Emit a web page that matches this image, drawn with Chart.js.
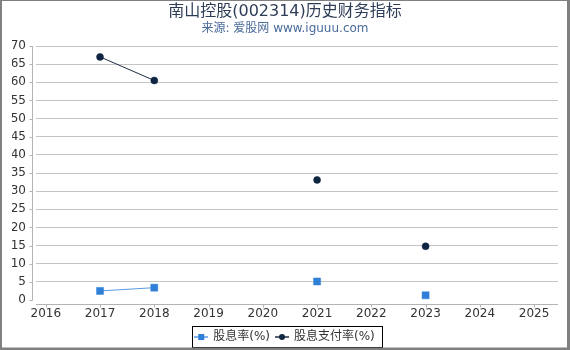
<!DOCTYPE html>
<html lang="zh">
<head>
<meta charset="UTF-8">
<title>南山控股(002314)历史财务指标</title>
<style>
    body { margin: 0; background: #fff; }
    canvas { display: block; }
</style>
</head>
<body>
<canvas id="chart" width="570" height="350"></canvas>

<script src="https://cdn.jsdelivr.net/npm/chart.js@4.4.3/dist/chart.umd.min.js"></script>
<script>
    // values
    const years = [2017, 2018, 2019, 2020, 2021, 2022, 2023]
    const dividendYield = [2.5, 3.4, null, null, 5.1, null, 1.3]
    const payoutRatio = [67.0, 60.5, null, null, 33.1, null, 14.8]
    const xTicks = [2016, 2017, 2018, 2019, 2020, 2021, 2022, 2023, 2024, 2025]
    const seriesNames = ['股息率(%)', '股息支付率(%)']
    const titleText = '南山控股(002314)历史财务指标'
    const subtitleText = '来源: 爱股网 www.iguuu.com'

    const font = "'DejaVu Sans', 'Noto Sans CJK SC', sans-serif"
    const blue = '#2f7fd8'
    const navy = '#0f2541'

    function legendMark(fill, line, shape) {
        const c = document.createElement('canvas')
        c.width = 14
        c.height = 10
        const g = c.getContext('2d')
        g.strokeStyle = line
        g.lineWidth = 1.5
        g.beginPath()
        g.moveTo(0, 5)
        g.lineTo(14, 5)
        g.stroke()
        g.fillStyle = fill
        if (shape === 'rect') {
            g.fillRect(4, 2, 6, 6)
        } else {
            g.beginPath()
            g.arc(7, 5, 3, 0, Math.PI * 2)
            g.fill()
        }
        return c
    }
    const marks = [legendMark(blue, '#5b9be3', 'rect'), legendMark(navy, '#1e2d45', 'circle')]

    // frame, axis lines with gap, legend box
    const decor = {
        id: 'decor',
        beforeDraw(chart) {
            const ctx = chart.ctx
            ctx.save()
            ctx.fillStyle = '#fff'
            ctx.fillRect(0, 0, chart.width, chart.height)
            ctx.restore()
        },
        afterDraw(chart) {
            const ctx = chart.ctx
            const a = chart.chartArea
            const xs = chart.scales.x
            const ys = chart.scales.y
            ctx.save()
            ctx.strokeStyle = '#b4b4b4'
            ctx.lineWidth = 1
            ctx.beginPath()
            const yx = Math.round(a.left - 4) + 0.5
            ctx.moveTo(yx, a.top)
            ctx.lineTo(yx, a.bottom + 0.5)
            ys.ticks.forEach(t => {
                const p = Math.round(ys.getPixelForValue(t.value)) + 0.5
                ctx.moveTo(yx - 3, p)
                ctx.lineTo(yx, p)
            })
            const xy = Math.round(a.bottom + 4) + 0.5
            ctx.moveTo(a.left, xy)
            ctx.lineTo(a.right, xy)
            xs.ticks.forEach(t => {
                const p = Math.round(xs.getPixelForValue(t.value)) + 0.5
                ctx.moveTo(p, xy)
                ctx.lineTo(p, xy + 3)
            })
            ctx.stroke()

            // legend border
            const hb = chart.legend.legendHitBoxes
            if (hb && hb.length) {
                const last = hb[hb.length - 1]
                const l = hb[0].left - 3
                const r = last.left + last.width + 7
                const t = hb[0].top - 5
                const b = hb[0].top + hb[0].height + 4
                ctx.strokeStyle = '#000'
                ctx.strokeRect(Math.round(l) + 0.5, Math.round(t) + 0.5, Math.round(r - l), Math.round(b - t))
            }

            // outer frame
            ctx.fillStyle = '#808080'
            ctx.fillRect(0, 0, chart.width, 1)
            ctx.fillRect(0, 0, 2, chart.height)
            ctx.fillRect(chart.width - 3, 0, 3, chart.height)
            ctx.fillRect(0, chart.height - 2.5, chart.width, 2.5)
            ctx.restore()
        }
    }

    new Chart(document.getElementById('chart'), {
        type: 'line',
        data: {
            datasets: [{
                label: seriesNames[0],
                data: years.map((x, i) => ({ x: x, y: dividendYield[i] })),
                borderColor: '#5b9be3',
                borderWidth: 1,
                pointStyle: 'rect',
                pointRadius: 5,
                pointBackgroundColor: blue,
                pointBorderColor: 'rgba(47,127,216,0.45)',
                pointBorderWidth: 1,
                spanGaps: false,
            }, {
                label: seriesNames[1],
                data: years.map((x, i) => ({ x: x, y: payoutRatio[i] })),
                borderColor: '#1e2d45',
                borderWidth: 1,
                pointStyle: 'circle',
                pointRadius: 3.5,
                pointBackgroundColor: navy,
                pointBorderColor: navy,
                pointBorderWidth: 0.5,
                spanGaps: false,
            }],
        },
        options: {
            responsive: false,
            animation: false,
            layout: { padding: { left: 12, right: 12, top: 0, bottom: -3 } },
            scales: {
                x: {
                    type: 'linear',
                    min: 2015.82,
                    max: 2025.44,
                    afterBuildTicks: s => { s.ticks = xTicks.map(v => ({ value: v })) },
                    afterFit: s => { s.height = 25 },
                    grid: { display: false, drawTicks: false },
                    border: { display: false },
                    ticks: {
                        padding: 7,
                        color: '#333',
                        font: { family: font, size: 12 },
                        callback: v => String(v),
                        maxRotation: 0,
                        autoSkip: false,
                    },
                },
                y: {
                    min: 0,
                    max: 70,
                    afterFit: s => { s.width = 24 },
                    grid: {
                        drawTicks: false,
                        color: c => c.tick && c.tick.value === 0 ? 'rgba(0,0,0,0)' : '#c4c4c4',
                    },
                    border: { display: false },
                    ticks: {
                        stepSize: 5,
                        padding: 10,
                        color: '#333',
                        font: { family: font, size: 12 },
                    },
                },
            },
            plugins: {
                tooltip: { enabled: false },
                title: {
                    display: true,
                    text: titleText,
                    color: '#2e3d57',
                    font: { family: font, size: 16, weight: 'normal' },
                    padding: { top: 2, bottom: 0 },
                },
                subtitle: {
                    display: true,
                    text: subtitleText,
                    color: '#4a6b9b',
                    font: { family: font, size: 12, weight: 'normal' },
                    padding: { top: 0.6, bottom: 9.8 },
                },
                legend: {
                    position: 'bottom',
                    labels: {
                        usePointStyle: true,
                        pointStyleWidth: 12,
                        padding: 6,
                        color: '#333',
                        font: { family: font, size: 12 },
                        generateLabels: chart => {
                            const items = Chart.defaults.plugins.legend.labels.generateLabels(chart)
                            items.forEach((it, i) => { it.pointStyle = marks[i] })
                            return items
                        },
                    },
                },
            },
        },
        plugins: [decor],
    })
</script>
</body>
</html>
